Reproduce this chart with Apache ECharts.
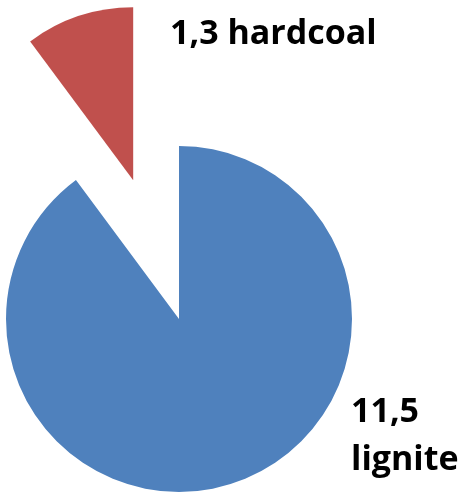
<!DOCTYPE html>
<html>
<head>
<meta charset="utf-8">
<script src="https://cdn.jsdelivr.net/npm/echarts@6/dist/echarts.min.js"></script>
<style>
  html, body { margin: 0; padding: 0; background: #fff; }
  #chart { width: 466px; height: 492px; }
</style>
</head>
<body>
<div id="chart"></div>
<script>
// Coal types and their amounts
const categories = ['lignite', 'hardcoal'];
const values = [11.5, 1.3];
const colors = ['#4F81BD', '#C0504D'];

// Label anchor points (pixels, top-left) for each slice
const labelSpots = [
  { x: 351, y: 388, lineHeight: 48, sep: '\n' },
  { x: 170, y: 13, lineHeight: 42, sep: ' ' }
];

const fmt = v => v.toFixed(1).replace('.', ',');

const chart = echarts.init(document.getElementById('chart'), null, { renderer: 'canvas' });

chart.setOption({
  animation: false,
  series: [{
    type: 'pie',
    center: [179, 319],
    radius: 173,
    startAngle: 90,
    clockwise: true,
    selectedMode: 'single',
    selectedOffset: 146,
    emphasis: { disabled: true },
    label: { show: false },
    labelLine: { show: false },
    data: categories.map((name, i) => ({
      name,
      value: values[i],
      selected: i === 1,
      itemStyle: { color: colors[i] }
    }))
  }],
  graphic: categories.map((name, i) => ({
    type: 'text',
    left: labelSpots[i].x,
    top: labelSpots[i].y,
    silent: true,
    style: {
      text: fmt(values[i]) + labelSpots[i].sep + name,
      fill: '#000',
      fontFamily: 'Open Sans',
      fontWeight: 'bold',
      fontSize: 34,
      lineHeight: labelSpots[i].lineHeight
    }
  }))
});
</script>
</body>
</html>
